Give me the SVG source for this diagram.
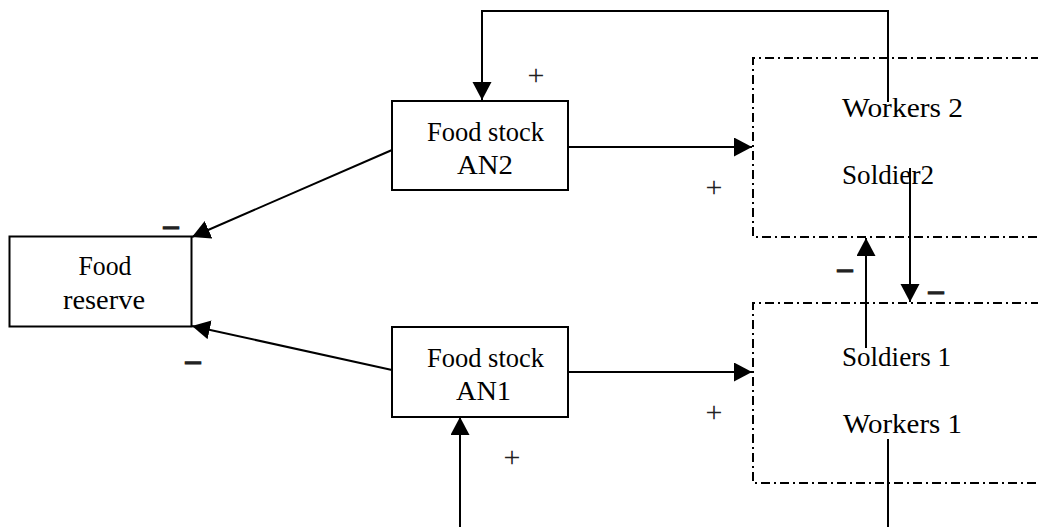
<svg xmlns="http://www.w3.org/2000/svg" width="1038" height="527" viewBox="0 0 1038 527">
  <defs>
    <marker id="arrow" markerUnits="userSpaceOnUse" markerWidth="20" markerHeight="20" refX="18" refY="9.5" orient="auto">
      <path d="M0,0 L18,9.5 L0,19 z" fill="#000"/>
    </marker>
  </defs>
  <style>
    .box { fill: #fff; stroke: #000; stroke-width: 2; }
    .group { fill: none; stroke: #000; stroke-width: 2; stroke-dasharray: 9 4 2 4; }
    .link { fill: none; stroke: #000; stroke-width: 2; }
    .lbl { font-family: "Liberation Serif", "Times New Roman", serif; font-size: 27px; fill: #000; }
    .plus { font-family: "Liberation Serif", "Times New Roman", serif; font-size: 30px; fill: #222; text-anchor: middle; }
    .minus { font-family: "Liberation Serif", "Times New Roman", serif; font-size: 30px; font-weight: bold; fill: #222; stroke: #222; stroke-width: 1.2; text-anchor: middle; }
    .mid { text-anchor: middle; }
  </style>

  <!-- colony groups (dash-dot frames running off the right edge) -->
  <g id="colony2">
    <path class="group" d="M1040,58 H753 V237 H1040"/>
    <text class="lbl" x="842" y="117" textLength="121" lengthAdjust="spacingAndGlyphs">Workers 2</text>
    <text class="lbl" x="842" y="184" textLength="92" lengthAdjust="spacingAndGlyphs">Soldier2</text>
  </g>
  <g id="colony1">
    <path class="group" d="M1040,303 H753 V483 H1040"/>
    <text class="lbl" x="842" y="366" textLength="109" lengthAdjust="spacingAndGlyphs">Soldiers 1</text>
    <text class="lbl" x="843" y="433" textLength="119" lengthAdjust="spacingAndGlyphs">Workers 1</text>
  </g>

  <!-- stocks -->
  <g id="food-reserve">
    <rect class="box" x="9.5" y="236.5" width="182" height="90"/>
    <text class="lbl mid" x="105" y="275" textLength="53" lengthAdjust="spacingAndGlyphs">Food</text>
    <text class="lbl mid" x="104" y="309" textLength="82" lengthAdjust="spacingAndGlyphs">reserve</text>
  </g>
  <g id="food-stock-an2">
    <rect class="box" x="392" y="101" width="176" height="89"/>
    <text class="lbl mid" x="485.5" y="140.5" textLength="117" lengthAdjust="spacingAndGlyphs">Food stock</text>
    <text class="lbl mid" x="485" y="174" textLength="56" lengthAdjust="spacingAndGlyphs">AN2</text>
  </g>
  <g id="food-stock-an1">
    <rect class="box" x="392" y="327" width="176" height="90"/>
    <text class="lbl mid" x="485.5" y="366.5" textLength="117" lengthAdjust="spacingAndGlyphs">Food stock</text>
    <text class="lbl mid" x="483.5" y="400" textLength="55" lengthAdjust="spacingAndGlyphs">AN1</text>
  </g>

  <!-- causal links -->
  <g id="connectors">
    <path class="link" d="M888,102 V11 H482 V100" marker-end="url(#arrow)"/>
    <path class="link" d="M568,147 H752" marker-end="url(#arrow)"/>
    <path class="link" d="M568,372 H752" marker-end="url(#arrow)"/>
    <path class="link" d="M392,150 L192,237" marker-end="url(#arrow)"/>
    <path class="link" d="M392,370 L192,326" marker-end="url(#arrow)"/>
    <path class="link" d="M910,168 V302" marker-end="url(#arrow)"/>
    <path class="link" d="M866,348 V238" marker-end="url(#arrow)"/>
    <path class="link" d="M460,527 V417" marker-end="url(#arrow)"/>
    <path class="link" d="M888,439 V527"/>
  </g>

  <!-- link polarities -->
  <g id="signs">
    <text class="plus" x="536" y="85">+</text>
    <text class="plus" x="714" y="197">+</text>
    <text class="plus" x="714" y="422">+</text>
    <text class="plus" x="512" y="467">+</text>
    <text class="minus" x="171" y="235">–</text>
    <text class="minus" x="193" y="370">–</text>
    <text class="minus" x="845" y="278">–</text>
    <text class="minus" x="936" y="300">–</text>
  </g>
</svg>
